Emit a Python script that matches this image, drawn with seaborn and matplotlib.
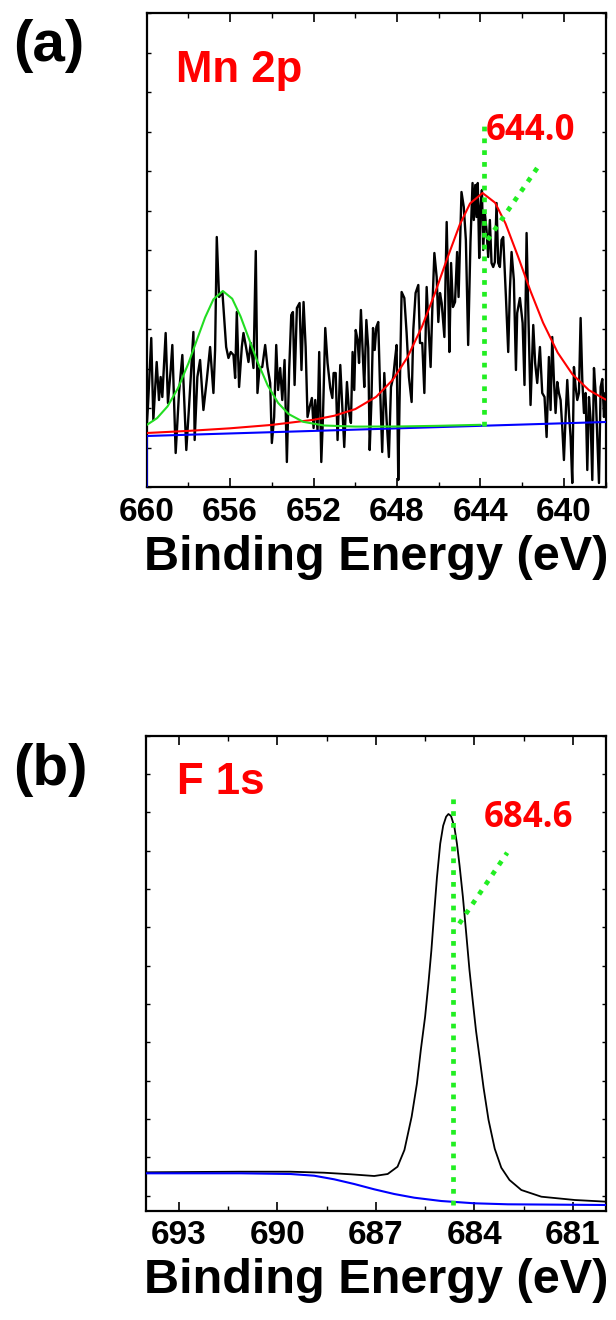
"""
XPS spectra: (a) Mn 2p with two fitted peaks, (b) F 1s.
Values read off the reference figure (binding energy in eV, intensity in a.u.).
"""

import matplotlib

matplotlib.use("Agg")
import matplotlib.pyplot as plt
import pandas as pd
import seaborn as sns
from matplotlib.ticker import MultipleLocator

# ---------------------------------------------------------------- (a) Mn 2p
mn_energy = [
    660.00, 659.94, 659.78, 659.68, 659.52, 659.41, 659.33, 659.25, 659.09, 658.98,
    658.85, 658.77, 658.61, 658.45, 658.29, 658.10, 657.97, 657.76, 657.70, 657.57,
    657.44, 657.28, 657.12, 656.96, 656.80, 656.72, 656.64, 656.53, 656.37, 656.19,
    656.08, 655.97, 655.84, 655.76, 655.68, 655.57, 655.44, 655.36, 655.23, 655.12,
    655.01, 654.88, 654.77, 654.69, 654.59, 654.46, 654.32, 654.21, 654.08, 654.00,
    653.89, 653.79, 653.70, 653.60, 653.50, 653.39, 653.28, 653.17, 653.07, 652.99,
    652.91, 652.80, 652.67, 652.58, 652.48, 652.38, 652.29, 652.19, 652.08, 652.00,
    651.92, 651.81, 651.73, 651.63, 651.55, 651.44, 651.33, 651.20, 651.10, 651.04,
    650.94, 650.85, 650.72, 650.62, 650.53, 650.40, 650.30, 650.21, 650.13, 650.05,
    649.98, 649.89, 649.82, 649.73, 649.63, 649.57, 649.47, 649.38, 649.31, 649.23,
    649.15, 649.07, 648.99, 648.90, 648.82, 648.71, 648.61, 648.50, 648.39, 648.29,
    648.18, 648.10, 648.02, 647.94, 647.88, 647.78, 647.65, 647.54, 647.43, 647.30,
    647.22, 647.11, 646.98, 646.90, 646.79, 646.69, 646.58, 646.50, 646.39, 646.31,
    646.21, 646.10, 646.02, 645.94, 645.86, 645.73, 645.62, 645.54, 645.49, 645.41,
    645.32, 645.22, 645.12, 645.05, 644.91, 644.80, 644.70, 644.59, 644.48, 644.38,
    644.32, 644.25, 644.19, 644.13, 644.06, 644.00, 643.93, 643.87, 643.79, 643.71,
    643.63, 643.55, 643.47, 643.39, 643.31, 643.23, 643.15, 643.07, 642.99, 642.91,
    642.78, 642.67, 642.59, 642.51, 642.40, 642.30, 642.24, 642.11, 641.98, 641.89,
    641.79, 641.71, 641.60, 641.47, 641.38, 641.28, 641.15, 641.04, 640.93, 640.83,
    640.72, 640.64, 640.56, 640.48, 640.40, 640.32, 640.24, 640.16, 640.08, 640.00,
    639.92, 639.84, 639.76, 639.68, 639.60, 639.52, 639.44, 639.36, 639.28, 639.20,
    639.12, 639.04, 638.96, 638.88, 638.80, 638.72, 638.64, 638.56, 638.48, 638.40,
    638.32, 638.24, 638.16, 638.08, 638.02,
]
mn_raw = [
    60, 80, 149, 67, 125, 87, 110, 90, 154, 84,
    117, 142, 34, 94, 132, 37, 80, 155, 47, 110,
    127, 77, 107, 140, 94, 137, 250, 190, 195, 140,
    129, 135, 132, 109, 175, 100, 140, 154, 139, 125,
    144, 119, 236, 94, 119, 120, 142, 120, 104, 44,
    70, 142, 97, 119, 87, 127, 25, 117, 172, 175,
    102, 179, 184, 117, 185, 140, 70, 80, 89, 59,
    87, 57, 135, 25, 70, 159, 124, 99, 89, 114,
    114, 47, 122, 80, 40, 105, 75, 64, 135, 97,
    157, 147, 124, 177, 127, 100, 167, 139, 37, 84,
    159, 137, 160, 165, 104, 35, 114, 67, 30, 100,
    110, 127, 142, 7, 84, 195, 189, 154, 110, 85,
    157, 194, 202, 144, 144, 94, 200, 164, 120, 177,
    234, 210, 165, 194, 184, 150, 265, 190, 135, 224,
    180, 185, 235, 190, 295, 280, 247, 142, 245, 304,
    267, 302, 270, 304, 229, 280, 297, 237, 274, 257,
    230, 267, 224, 220, 225, 284, 224, 220, 247, 250,
    190, 135, 197, 235, 207, 117, 174, 189, 164, 102,
    254, 177, 82, 162, 124, 104, 140, 94, 90, 50,
    130, 77, 150, 107, 74, 105, 94, 87, 60, 27,
    70, 107, 74, 50, 4, 120, 100, 87, 94, 169,
    107, 74, 94, 17, 90, 67, 7, 119, 94, 50,
    4, 100, 108, 70, 94,
]

# fitted component near 656.4 eV (green)
mn_fit_656_energy = [
    660.0, 659.5, 659.0, 658.5, 658.0, 657.6, 657.2, 656.8, 656.35, 655.9, 655.5,
    655.1, 654.7, 654.2, 653.7, 653.2, 652.5, 651.5, 650.0, 648.0, 646.0, 644.0,
]
mn_fit_656 = [
    62.0, 68.9, 80.6, 98.8, 123.6, 146.7, 169.5, 187.7, 196.0, 188.3, 170.6,
    148.3, 125.8, 101.6, 84.1, 73.0, 65.2, 61.5, 60.4, 60.5, 61.2, 62.2,
]

# fitted component near 644.0 eV (red)
mn_fit_644_energy = [
    660.0, 658.0, 656.0, 654.0, 652.0, 651.0, 650.0, 649.0, 648.2, 647.5, 646.8,
    646.2, 645.6, 645.0, 644.5, 643.9, 643.3, 642.8, 642.2, 641.6, 641.0, 640.3,
    639.6, 638.8, 638.0,
]
mn_fit_644 = [
    54.0, 56.1, 58.7, 62.1, 67.2, 71.3, 77.9, 90.2, 107.3, 129.7, 160.5,
    192.8, 228.2, 262.0, 283.5, 294.0, 284.3, 263.5, 230.5, 195.8, 164.3, 134.4,
    112.9, 96.8, 87.4,
]

# background (blue)
mn_bg_energy = [660.0, 660.0, 638.0]
mn_bg = [0.0, 51.0, 65.0]

mn_peak = 643.85
mn_peak_label = "644.0"

# ---------------------------------------------------------------- (b) F 1s
f_energy = [
    694.00, 692.65, 691.12, 689.60, 688.58, 687.76, 687.05, 686.64, 686.34, 686.13,
    685.91, 685.75, 685.63, 685.50, 685.40, 685.31, 685.23, 685.14, 685.04, 684.95,
    684.86, 684.79, 684.71, 684.61, 684.53, 684.45, 684.35, 684.25, 684.15, 684.05,
    683.95, 683.84, 683.72, 683.57, 683.38, 683.18, 682.93, 682.57, 681.96, 680.94,
    679.97,
]
f_raw = [
    23.4, 23.7, 24.0, 24.0, 23.0, 21.4, 19.7, 21.7, 29.0, 45.7,
    79.0, 112.0, 146.0, 179.0, 212.0, 245.0, 280.0, 318.0, 352.0, 370.0,
    379.0, 381.7, 379.7, 369.0, 352.0, 330.0, 299.0, 263.0, 226.0, 195.0,
    165.0, 138.0, 108.0, 76.0, 47.0, 28.0, 15.7, 5.7, -1.0, -4.3,
    -6.0,
]
f_bg_energy = [
    694.00, 691.12, 689.60, 688.88, 688.27, 687.66, 687.05, 686.44, 685.83, 685.01,
    684.00, 682.98, 679.97,
]
f_bg = [
    22.4, 22.4, 21.7, 20.0, 16.4, 11.7, 6.4, 1.7, -2.0, -5.3,
    -7.6, -8.6, -9.3,
]

f_peak = 684.66
f_peak_label = "684.6"

RED = "#ff0000"
GREEN = "#22dd22"
GUIDE = "#22ee22"
BLUE = "#0000ff"


def style_axes(ax, xlim, ylim, minor, ystep, ticks):
    ax.set_xlim(*xlim)
    ax.set_ylim(*ylim)
    ax.set_xticks(ticks)
    ax.set_xticklabels([f"{t:g}" for t in ticks])
    ax.xaxis.set_minor_locator(MultipleLocator(minor))
    ax.yaxis.set_major_locator(MultipleLocator(ystep))
    ax.set_yticklabels([])
    ax.set_ylabel("")
    ax.tick_params(axis="x", which="major", direction="in", top=True,
                   length=6.5, width=1.2, pad=7, labelsize=24, colors="black")
    ax.tick_params(axis="x", which="minor", direction="in", top=True,
                   length=3.5, width=1.0, colors="black")
    ax.tick_params(axis="y", which="major", direction="in", right=True,
                   length=3, width=1.0, colors="black")
    for lab in ax.get_xticklabels():
        lab.set_fontweight("bold")
    for sp in ax.spines.values():
        sp.set_linewidth(1.6)
        sp.set_color("black")
    ax.set_xlabel("Binding Energy (eV)", fontsize=35, fontweight="bold",
                  color="black", labelpad=5)
    ax.grid(False)


def guide_lines(ax, xpos, y0, y1, leader):
    ax.plot([xpos, xpos], [y0, y1], color=GUIDE, lw=3.4,
            linestyle=(0, (1, 1.5)), zorder=6)
    (lx0, ly0), (lx1, ly1) = leader
    ax.plot([lx0, lx1], [ly0, ly1], color=GUIDE, lw=3.4,
            linestyle=(0, (1, 1.5)), zorder=6)


def main():
    sns.set_theme(style="ticks")
    plt.rcParams["font.family"] = ["Liberation Sans", "DejaVu Sans"]
    plt.rcParams["text.color"] = "black"
    plt.rcParams["axes.labelcolor"] = "black"

    fig = plt.figure(figsize=(6.16, 13.2), dpi=100)
    ax_a = fig.add_axes([0.2381, 0.63106, 0.7451, 0.35909])
    ax_b = fig.add_axes([0.2370, 0.08280, 0.7463, 0.35985])

    # ---- panel (a)
    lw_kw = dict(estimator=None, sort=False, ax=ax_a)
    sns.lineplot(x=mn_energy, y=mn_raw, color="black", linewidth=1.7, zorder=3, **lw_kw)
    sns.lineplot(x=mn_bg_energy, y=mn_bg, color=BLUE, linewidth=1.5, zorder=4, **lw_kw)
    sns.lineplot(x=mn_fit_644_energy, y=mn_fit_644, color=RED, linewidth=1.5, zorder=5, **lw_kw)
    sns.lineplot(x=mn_fit_656_energy, y=mn_fit_656, color=GREEN, linewidth=1.5, zorder=5, **lw_kw)
    guide_lines(ax_a, mn_peak, 61.5, 367, ((643.66, 247), (641.28, 319)))

    style_axes(ax_a, (660, 638), (0, 474), 2, 39.5,
               [660, 656, 652, 648, 644, 640])

    ax_a.text(658.6, 405, "Mn 2p", color=RED, fontsize=31.5, fontweight="bold",
              va="baseline", ha="left")
    ax_a.text(643.76, 347, mn_peak_label, color=RED, fontsize=25,
              fontweight="bold", family=["Open Sans", "DejaVu Sans"],
              va="baseline", ha="left")

    # ---- panel (b)
    lw_kw = dict(estimator=None, sort=False, ax=ax_b)
    sns.lineplot(x=f_energy, y=f_raw, color="black", linewidth=1.3, zorder=3, **lw_kw)
    sns.lineplot(x=f_bg_energy, y=f_bg, color=BLUE, linewidth=1.5, zorder=4, **lw_kw)
    guide_lines(ax_b, f_peak, -9.5, 398, ((684.46, 272), (683.0, 343)))

    style_axes(ax_b, (694, 680), (-15, 460), 1.5, 38.33,
               [693, 690, 687, 684, 681])

    ax_b.text(693.06, 401.7, "F 1s", color=RED, fontsize=31.5, fontweight="bold",
              va="baseline", ha="left")
    ax_b.text(683.70, 369, f_peak_label, color=RED, fontsize=25,
              fontweight="bold", family=["Open Sans", "DejaVu Sans"],
              va="baseline", ha="left")

    fig.text(13 / 616, 1 - 60.7 / 1320, "(a)", fontsize=42, fontweight="bold",
             color="black", va="baseline", ha="left")
    fig.text(13 / 616, 1 - 785 / 1320, "(b)", fontsize=42, fontweight="bold",
             color="black", va="baseline", ha="left")

    fig.savefig("out.png", dpi=100)


if __name__ == "__main__":
    main()
